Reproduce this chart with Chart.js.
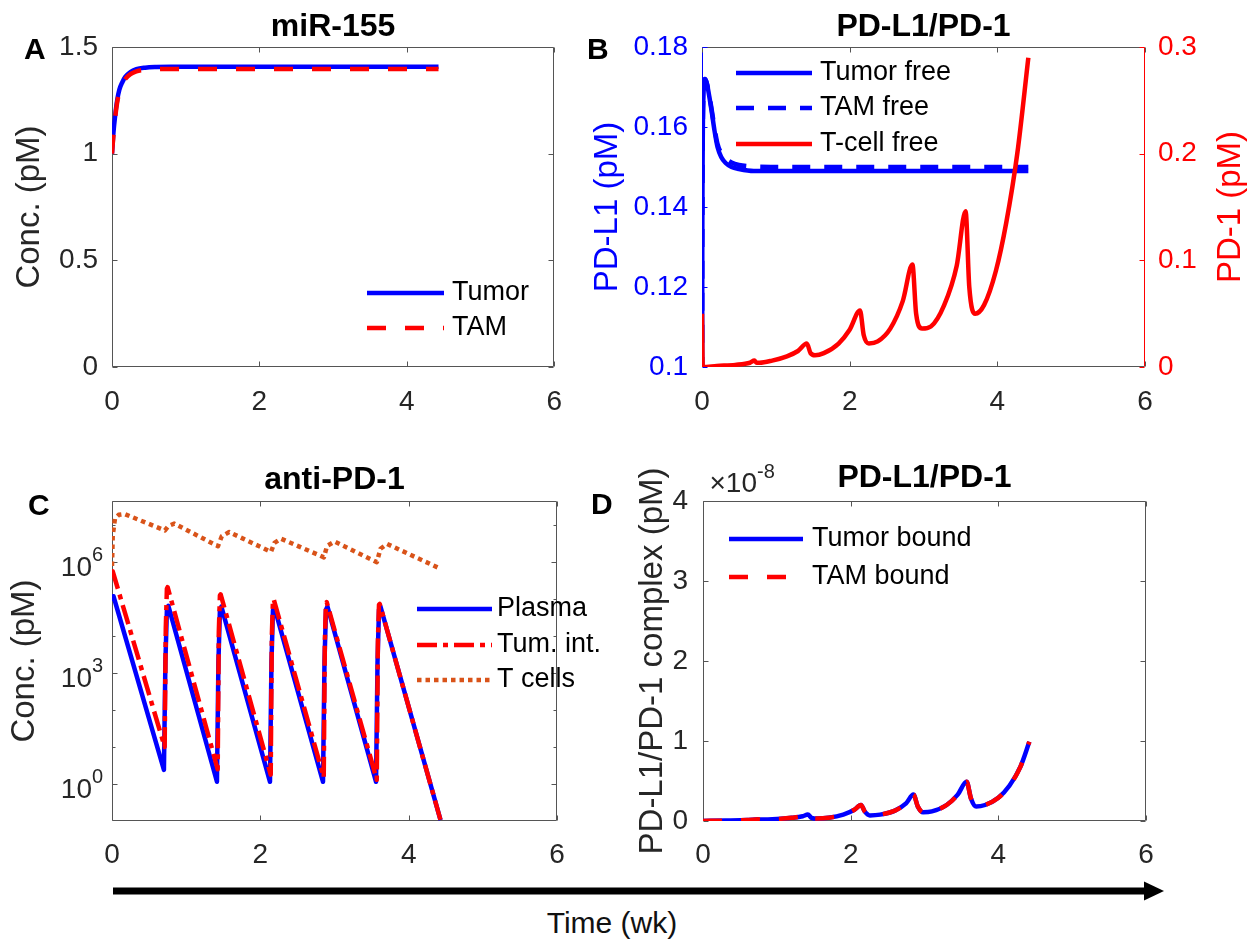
<!DOCTYPE html>
<html>
<head>
<meta charset="utf-8">
<title>miR-155 / PD-L1 / anti-PD-1</title>
<script src="https://cdn.jsdelivr.net/npm/chart.js@4.4.1/dist/chart.umd.min.js"></script>
<style>
  html, body { margin: 0; padding: 0; background: #fff; }
  #wrap { position: relative; width: 1258px; height: 941px; background: #fff; overflow: hidden; }
  #wrap canvas { position: absolute; }
  #timeLabel { position: absolute; left: 462px; width: 300px; top: 904px; text-align: center;
               font: 30px "Liberation Sans", Arial, sans-serif; color: #111; line-height: 38px; }
</style>
</head>
<body>
<div id="wrap">
  <svg width="1258" height="941" style="position:absolute;left:0;top:0">
    <rect x="113" y="887.5" width="1033" height="7" fill="#000"/>
    <polygon points="1144,881.5 1164,891 1144,900.5" fill="#000"/>
  </svg>
  <canvas id="cA" width="580" height="440" style="left:0;top:0"></canvas>
  <canvas id="cB" width="678" height="440" style="left:580px;top:0"></canvas>
  <canvas id="cD" width="678" height="440" style="left:580px;top:440px"></canvas>
  <canvas id="cC" width="640" height="440" style="left:0;top:440px"></canvas>
  <div id="timeLabel">Time (wk)</div>
</div>
<script>
const FONT = '"Liberation Sans", Arial, sans-serif';
const AXIS = '#555555';
const TXT = '#262626';
const BLUE = '#0000ff';
const RED = '#ff0000';
const ORANGE = '#d95319';

// time in weeks, shared x ticks
const xTicks = [0, 2, 4, 6];

// A: miR-155 (pM)
const tA = [0, 0.02, 0.04, 0.07, 0.1, 0.14, 0.18, 0.25, 0.33, 0.45, 0.6, 0.8, 1.5, 2.5, 3.5, 4.43];
const mirTumor = [1.0, 1.1, 1.17, 1.25, 1.3, 1.335, 1.36, 1.383, 1.396, 1.403, 1.406, 1.407, 1.407, 1.407, 1.407, 1.407];
const mirTam = [1.0, 1.09, 1.16, 1.24, 1.29, 1.325, 1.35, 1.373, 1.386, 1.393, 1.396, 1.397, 1.397, 1.397, 1.397, 1.397];
const aTicks = [0, 0.5, 1, 1.5];

// B: free PD-L1 (left axis) and PD-1 (right axis), pM
const tB = [0, 0.004, 0.02, 0.04, 0.07, 0.1, 0.13, 0.17, 0.21, 0.26, 0.32, 0.4, 0.5, 0.7, 1.0, 2.0, 3.0, 4.42];
const pdl1Tumor = [0.05, 0.13, 0.168, 0.172, 0.1705, 0.1675, 0.164, 0.159, 0.155, 0.1525, 0.151, 0.15, 0.1495, 0.149, 0.149, 0.149, 0.149, 0.149];
const pdl1Tam = [0.05, 0.13, 0.168, 0.172, 0.1707, 0.1678, 0.1645, 0.1597, 0.1558, 0.1535, 0.1521, 0.1511, 0.1505, 0.1501, 0.15, 0.15, 0.15, 0.15];
const tT = [0, 0.01, 0.2, 0.45, 0.65, 0.71, 0.74, 0.78, 0.95, 1.15, 1.3, 1.42, 1.47, 1.53, 1.65, 1.85, 2.0, 2.14, 2.19, 2.26, 2.38, 2.55, 2.72, 2.85, 2.9, 2.98, 3.1, 3.28, 3.45, 3.57, 3.62, 3.7, 3.82, 3.98, 4.12, 4.27, 4.42];
const pd1Tcell = [0.05, 0.0, 0.001, 0.002, 0.004, 0.006, 0.004, 0.004, 0.006, 0.01, 0.015, 0.022, 0.013, 0.011, 0.013, 0.022, 0.035, 0.053, 0.03, 0.022, 0.024, 0.036, 0.062, 0.096, 0.05, 0.036, 0.038, 0.058, 0.095, 0.146, 0.075, 0.05, 0.058, 0.09, 0.135, 0.2, 0.29];
const bLeftTicks = [0.1, 0.12, 0.14, 0.16, 0.18];
const bRightTicks = [0, 0.1, 0.2, 0.3];

// C: anti-PD-1 (pM, log axis)
const tPlasma = [0, 0.02, 0.70, 0.72, 0.74, 0.76, 1.415, 1.435, 1.455, 1.475, 2.13, 2.15, 2.17, 2.19, 2.845, 2.865, 2.885, 2.905, 3.56, 3.58, 3.60, 3.62, 4.43];
const plasma = [8.9e4, 1.2e5, 2.4, 2.0e3, 5.0e4, 6.6e4, 1.15, 2.0e3, 5.0e4, 6.3e4, 1.15, 2.0e3, 5.0e4, 6.0e4, 1.15, 2.0e3, 5.2e4, 6.3e4, 1.15, 2.0e3, 5.2e4, 6.3e4, 0.105];
const tTum = [0, 0.01, 0.71, 0.725, 0.74, 0.75, 1.425, 1.44, 1.455, 1.465, 2.14, 2.155, 2.17, 2.18, 2.855, 2.87, 2.885, 2.895, 3.57, 3.585, 3.6, 3.61, 4.43];
const tumInt = [5.0e5, 5.6e5, 10, 1.6e4, 1.9e5, 2.1e5, 2.5, 1.26e4, 1.26e5, 1.35e5, 1.8, 1.0e4, 9.3e4, 1.0e5, 1.5, 7.9e3, 7.9e4, 8.3e4, 1.3, 7.1e3, 7.1e4, 7.4e4, 0.105];
const tCells = [0, 0.01, 0.04, 0.09, 0.17, 0.714, 0.76, 0.84, 1.429, 1.48, 1.58, 2.143, 2.19, 2.28, 2.857, 2.9, 3.0, 3.571, 3.62, 3.71, 4.43];
const tcell = [7.9e5, 5.2e6, 1.5e7, 1.9e7, 2.0e7, 7.2e6, 9.5e6, 1.1e7, 2.7e6, 5.0e6, 6.5e6, 1.9e6, 3.3e6, 4.3e6, 1.35e6, 2.75e6, 3.6e6, 1.0e6, 2.3e6, 3.1e6, 6.6e5];
const cTicks = [1, 1e3, 1e6];
const cMinorTicks = [10, 100, 1e4, 1e5, 1e7];

// D: PD-L1/PD-1 complex (x1e-8 pM)
const tD = [0, 0.3, 0.6, 0.71, 0.74, 0.78, 1.0, 1.2, 1.35, 1.42, 1.47, 1.55, 1.7, 1.9, 2.05, 2.14, 2.19, 2.26, 2.4, 2.6, 2.75, 2.85, 2.91, 2.98, 3.1, 3.3, 3.45, 3.57, 3.63, 3.7, 3.82, 4.0, 4.15, 4.3, 4.42];
const tumorBound = [0, 0.005, 0.012, 0.018, 0.022, 0.018, 0.025, 0.04, 0.06, 0.08, 0.04, 0.03, 0.04, 0.08, 0.14, 0.2, 0.12, 0.07, 0.08, 0.13, 0.22, 0.33, 0.18, 0.11, 0.12, 0.2, 0.33, 0.49, 0.28, 0.18, 0.2, 0.29, 0.44, 0.68, 0.99];
const tamBound = [0, 0.005, 0.012, 0.018, 0.022, 0.018, 0.025, 0.04, 0.06, 0.08, 0.04, 0.03, 0.04, 0.08, 0.14, 0.2, 0.12, 0.07, 0.08, 0.13, 0.22, 0.33, 0.18, 0.11, 0.12, 0.2, 0.33, 0.49, 0.28, 0.18, 0.2, 0.29, 0.44, 0.68, 0.99];
const dTicks = [0, 1, 2, 3, 4];

const pts = (xs, ys) => xs.map((x, i) => ({ x: x, y: ys[i] }));
const fixTicks = arr => s => { s.ticks = arr.map(v => ({ value: v })); };
const tickFont = { family: FONT, size: 28 };
const straight = { cubicInterpolationMode: 'default', tension: 0 };

function xScale(h, pad) {
  return {
    type: 'linear', min: 0, max: 6,
    afterBuildTicks: fixTicks(xTicks),
    afterFit: s => { s.height = h; },
    grid: { display: false, drawTicks: false },
    border: { display: false },
    ticks: { font: tickFont, color: TXT, padding: pad, maxRotation: 0, autoSkip: false, callback: v => String(v) }
  };
}

function yScale(o) {
  return {
    type: o.type || 'linear', position: o.position || 'left', min: o.min, max: o.max,
    afterBuildTicks: fixTicks(o.ticks),
    afterFit: s => { s.width = o.width; },
    grid: { display: false, drawTicks: false },
    border: { display: false },
    ticks: { display: o.showTicks !== false, font: tickFont, color: o.color || TXT, padding: o.pad,
             autoSkip: false, callback: v => String(v) }
  };
}

function line(label, data, color, dash, order, extra) {
  return Object.assign({
    label: label, data: data, borderColor: color, borderWidth: 4.5, borderDash: dash || [],
    borderJoinStyle: 'round', pointRadius: 0, fill: false, cubicInterpolationMode: 'monotone', order: order
  }, extra || {});
}

// axes box, inward ticks, panel letter, axis titles, legend
function makeExtras(cfg) {
  return {
    id: 'extras',
    beforeDatasetsDraw(chart) {
      const { ctx, chartArea: a, scales } = chart;
      const L = Math.round(a.left) + 0.5, R = Math.round(a.right) - 0.5;
      const T = Math.round(a.top) + 0.5, B = Math.round(a.bottom) - 0.5;
      const seg = (x1, y1, x2, y2, c) => {
        ctx.strokeStyle = c; ctx.beginPath(); ctx.moveTo(x1, y1); ctx.lineTo(x2, y2); ctx.stroke();
      };
      ctx.save();
      ctx.lineWidth = 1;
      seg(L, T, R, T, AXIS); seg(L, B, R, B, AXIS);
      seg(L, T, L, B, cfg.leftColor || AXIS); seg(R, T, R, B, cfg.rightColor || AXIS);
      xTicks.forEach(v => {
        const px = Math.round(scales.x.getPixelForValue(v)) + 0.5;
        seg(px, B, px, B - 5, AXIS); seg(px, T, px, T + 5, AXIS);
      });
      (cfg.yMarks || []).forEach(m => {
        const s = scales[m.id];
        m.values.forEach(v => {
          const py = Math.round(s.getPixelForValue(v)) + 0.5;
          if (m.left) seg(L, py, L + m.len, py, m.color);
          if (m.right) seg(R, py, R - m.len, py, m.color);
        });
      });
      ctx.restore();
    },
    afterDraw(chart) {
      const { ctx, chartArea: a, scales } = chart;
      const midY = (a.top + a.bottom) / 2;
      ctx.save();
      ctx.textBaseline = 'middle';
      // panel letter
      ctx.fillStyle = '#000';
      ctx.font = 'bold 30px ' + FONT;
      ctx.textAlign = 'left';
      ctx.fillText(cfg.letter.text, cfg.letter.x, cfg.letter.y);
      // rotated axis titles
      (cfg.titles || []).forEach(t => {
        ctx.save();
        ctx.translate(t.x, midY);
        ctx.rotate(-Math.PI / 2);
        ctx.font = '33px ' + FONT;
        ctx.fillStyle = t.color || TXT;
        ctx.textAlign = 'center';
        ctx.fillText(t.text, 0, 0);
        ctx.restore();
      });
      // free text (exponent multiplier)
      (cfg.notes || []).forEach(n => {
        ctx.font = n.size + 'px ' + FONT;
        ctx.fillStyle = n.color || TXT;
        ctx.textAlign = n.align || 'left';
        ctx.fillText(n.text, n.x, n.y);
      });
      // log tick labels 10^n
      if (cfg.logLabels) {
        const s = scales[cfg.logLabels.id];
        cfg.logLabels.values.forEach(v => {
          const py = s.getPixelForValue(v);
          ctx.fillStyle = TXT;
          ctx.font = '28px ' + FONT;
          ctx.textAlign = 'right';
          ctx.fillText('10', cfg.logLabels.x, py + 6);
          ctx.font = '20px ' + FONT;
          ctx.textAlign = 'left';
          ctx.fillText(String(Math.round(Math.log10(v))), cfg.logLabels.x, py - 7);
        });
      }
      // legend
      const lg = cfg.legend;
      chart.data.datasets.forEach((ds, i) => {
        const y = lg.ys[i];
        ctx.strokeStyle = ds.borderColor;
        ctx.lineWidth = ds.borderWidth;
        ctx.setLineDash(ds.borderDash || []);
        ctx.beginPath(); ctx.moveTo(lg.x0, y); ctx.lineTo(lg.x1, y); ctx.stroke();
        ctx.setLineDash([]);
        ctx.fillStyle = '#000';
        ctx.font = '27px ' + FONT;
        ctx.textAlign = 'left';
        ctx.fillText(ds.label, lg.tx, y);
      });
      ctx.restore();
    }
  };
}

function titleOpts(text, top, bottom) {
  return {
    display: true, text: text, fullSize: false, color: '#000',
    font: { family: FONT, size: 32, weight: 'bold', lineHeight: 1.2 },
    padding: { top: top, bottom: bottom }
  };
}

const common = {
  responsive: false, animation: false, devicePixelRatio: 1,
  plugins: { legend: { display: false }, tooltip: { enabled: false } }
};

// A
new Chart(document.getElementById('cA'), {
  type: 'line',
  data: { datasets: [
    line('Tumor', pts(tA, mirTumor), BLUE, [], 1),
    line('TAM', pts(tA, mirTam), RED, [19, 19], 0)
  ] },
  options: Object.assign({}, common, {
    layout: { padding: { left: 0, right: 23, top: 0, bottom: 0 } },
    plugins: Object.assign({}, common.plugins, { title: titleOpts('miR-155', 7.8, 0.8) }),
    scales: {
      x: xScale(73, 18),
      y: yScale({ min: 0, max: 1.5, ticks: aTicks, width: 112, pad: 14 })
    }
  }),
  plugins: [makeExtras({
    letter: { text: 'A', x: 24, y: 51 },
    titles: [{ text: 'Conc. (pM)', x: 30 }],
    yMarks: [{ id: 'y', values: aTicks, left: true, right: true, color: AXIS, len: 5 }],
    legend: { x0: 367, x1: 444, tx: 452, ys: [293, 328] }
  })]
});

// B
new Chart(document.getElementById('cB'), {
  type: 'line',
  data: { datasets: [
    line('Tumor free', pts(tB, pdl1Tumor), BLUE, [], 2, { yAxisID: 'y' }),
    line('TAM free', pts(tB, pdl1Tam), BLUE, [18, 14], 1, { yAxisID: 'y' }),
    line('T-cell free', pts(tT, pd1Tcell), RED, [], 0, { yAxisID: 'y1' })
  ] },
  options: Object.assign({}, common, {
    layout: { padding: 0 },
    plugins: Object.assign({}, common.plugins, { title: titleOpts('PD-L1/PD-1', 7.8, 0.8) }),
    scales: {
      x: xScale(73, 18),
      y: yScale({ min: 0.1, max: 0.18, ticks: bLeftTicks, width: 122, pad: 14, color: BLUE }),
      y1: yScale({ position: 'right', min: 0, max: 0.3, ticks: bRightTicks, width: 113, pad: 13, color: RED })
    }
  }),
  plugins: [makeExtras({
    letter: { text: 'B', x: 7, y: 51 },
    leftColor: BLUE, rightColor: RED,
    titles: [{ text: 'PD-L1 (pM)', x: 28, color: BLUE }, { text: 'PD-1 (pM)', x: 651, color: RED }],
    yMarks: [
      { id: 'y', values: bLeftTicks, left: true, right: false, color: BLUE, len: 5 },
      { id: 'y1', values: bRightTicks, left: false, right: true, color: RED, len: 5 }
    ],
    legend: { x0: 156, x1: 232, tx: 240, ys: [73, 108, 144] }
  })]
});

// C
new Chart(document.getElementById('cC'), {
  type: 'line',
  data: { datasets: [
    line('Plasma', pts(tPlasma, plasma), BLUE, [], 2, straight),
    line('Tum. int.', pts(tTum, tumInt), RED, [20, 6, 5, 6], 1, straight),
    line('T cells', pts(tCells, tcell), ORANGE, [4.5, 4], 0, straight)
  ] },
  options: Object.assign({}, common, {
    layout: { padding: { left: 0, right: 83, top: 0, bottom: 0 } },
    plugins: Object.assign({}, common.plugins, { title: titleOpts('anti-PD-1', 20.8, 1.8) }),
    scales: {
      x: xScale(59, 17),
      y: yScale({ type: 'logarithmic', min: 0.1, max: 4.5e7, ticks: cTicks, width: 112, pad: 14, showTicks: false })
    }
  }),
  plugins: [makeExtras({
    letter: { text: 'C', x: 28, y: 67 },
    titles: [{ text: 'Conc. (pM)', x: 25 }],
    yMarks: [
      { id: 'y', values: cTicks, left: true, right: true, color: AXIS, len: 5 },
      { id: 'y', values: cMinorTicks, left: true, right: true, color: AXIS, len: 3 }
    ],
    logLabels: { id: 'y', values: cTicks, x: 92 },
    legend: { x0: 417, x1: 492, tx: 497, ys: [169, 205, 240] }
  })]
});

// D
new Chart(document.getElementById('cD'), {
  type: 'line',
  data: { datasets: [
    line('Tumor bound', pts(tD, tumorBound), BLUE, [], 1),
    line('TAM bound', pts(tD, tamBound), RED, [19, 19], 0)
  ] },
  options: Object.assign({}, common, {
    layout: { padding: { left: 0, right: 112, top: 0, bottom: 0 } },
    plugins: Object.assign({}, common.plugins, { title: titleOpts('PD-L1/PD-1', 18.8, 3.8) }),
    scales: {
      x: xScale(59, 17),
      y: yScale({ min: 0, max: 4, ticks: dTicks, width: 123, pad: 15 })
    }
  }),
  plugins: [makeExtras({
    letter: { text: 'D', x: 11, y: 66 },
    titles: [{ text: 'PD-L1/PD-1 complex (pM)', x: 73 }],
    yMarks: [{ id: 'y', values: dTicks, left: true, right: true, color: AXIS, len: 5 }],
    notes: [
      { text: '\u00d710', x: 177, y: 44, size: 28, align: 'right' },
      { text: '-8', x: 177, y: 32, size: 20, align: 'left' }
    ],
    legend: { x0: 149, x1: 223, tx: 232, ys: [99, 137] }
  })]
});
</script>
</body>
</html>
